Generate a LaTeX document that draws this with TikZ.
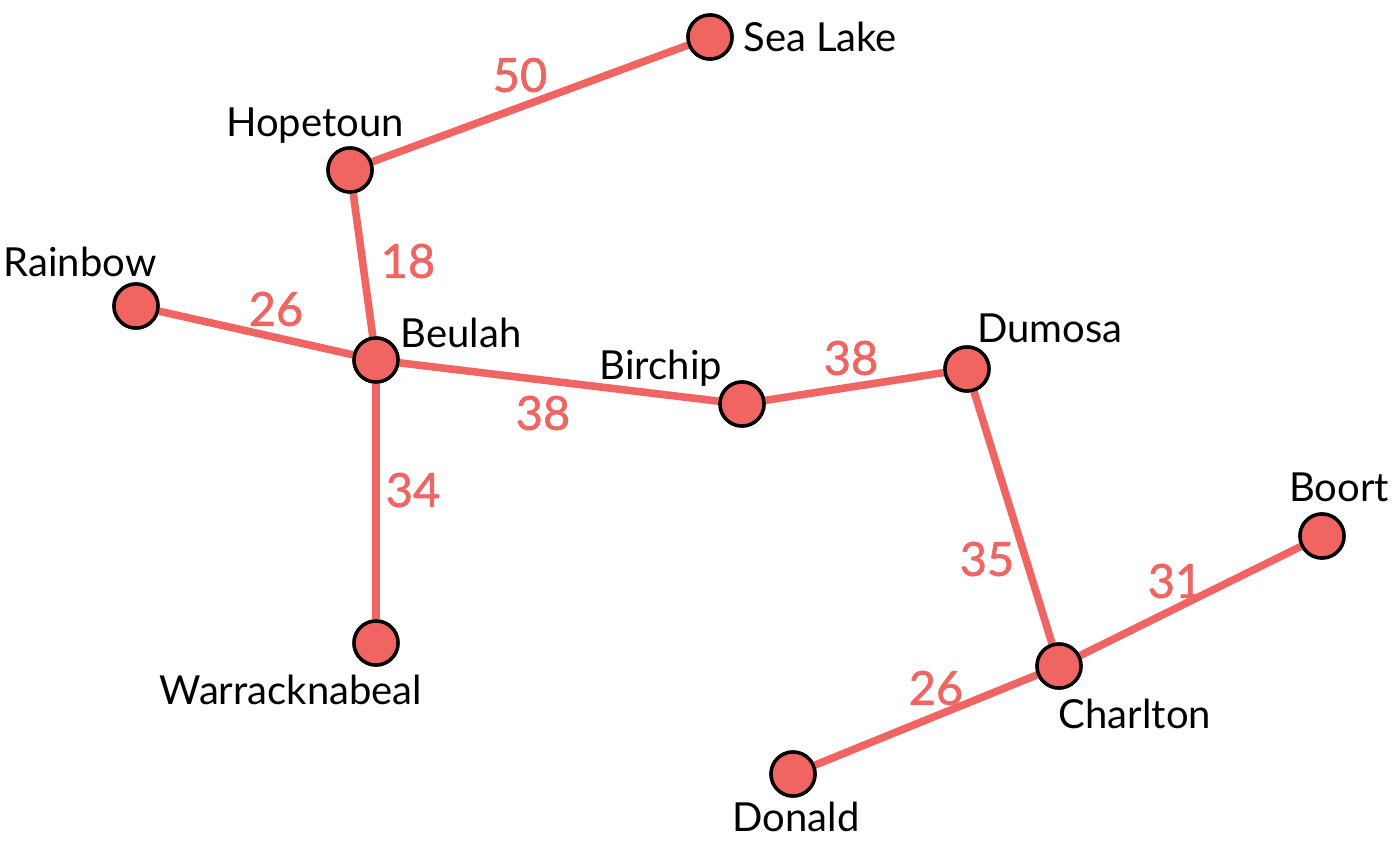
\documentclass[tikz,border=0pt]{standalone}
\usepackage{fontspec}
\setmainfont{Lato}
\newfontfamily\distfont[FakeBold=1.3]{Lato}
\definecolor{road}{RGB}{240,100,98}
\begin{document}
\begin{tikzpicture}[x=0.5pt,y=-0.5pt,
  town/.style={circle,draw=black,line width=1.7pt,fill=road,minimum size=22pt,inner sep=0pt},
  edge/.style={draw=road,line width=3.8pt},
  townlabel/.style={font=\fontsize{20}{23}\selectfont,text=black,inner sep=0pt},
  dist/.style={font=\distfont\fontsize{23.5}{26}\selectfont,text=road,inner sep=0pt}]
\useasboundingbox (0,0) rectangle (1393,845);
\node[town] (sealake) at (710,37) {};
\node[town] (hopetoun) at (350,170) {};
\node[town] (rainbow) at (136,306) {};
\node[town] (beulah) at (376,360) {};
\node[town] (birchip) at (742,404) {};
\node[town] (dumosa) at (967,369) {};
\node[town] (warrack) at (376,643) {};
\node[town] (boort) at (1322,536) {};
\node[town] (charlton) at (1059,666) {};
\node[town] (donald) at (793,774) {};
\path[edge] (hopetoun) -- (sealake);
\path[edge] (hopetoun) -- (beulah);
\path[edge] (rainbow) -- (beulah);
\path[edge] (beulah) -- (birchip);
\path[edge] (beulah) -- (warrack);
\path[edge] (birchip) -- (dumosa);
\path[edge] (dumosa) -- (charlton);
\path[edge] (charlton) -- (boort);
\path[edge] (charlton) -- (donald);
\foreach \n in {sealake,hopetoun,rainbow,beulah,birchip,dumosa,warrack,boort,charlton,donald}
  \node[town] at (\n) {};
\node[townlabel,anchor=west] (lsealake) at (743,37) {Sea Lake};
\node[townlabel] (lhopetoun) at (315,126) {Hopetoun};
\node[townlabel] (lrainbow) at (80,262) {Rainbow};
\node[townlabel] (lbeulah) at (461,333) {Beulah};
\node[townlabel] (lbirchip) at (661,368) {Birchip};
\node[townlabel] (ldumosa) at (1050,328) {Dumosa};
\node[townlabel] (lboort) at (1339,487) {Boort};
\node[townlabel] (lcharlton) at (1135,714) {Charlton};
\node[townlabel] (ldonald) at (796,817) {Donald};
\node[townlabel] (lwarrack) at (291,690) {Warracknabeal};
\node[dist] (d1) at (520,75) {50};
\node[dist] (d2) at (408,261) {18};
\node[dist] (d3) at (276,309) {26};
\node[dist] (d4) at (543,413) {38};
\node[dist] (d5) at (413,490) {34};
\node[dist] (d6) at (851,358) {38};
\node[dist] (d7) at (987,559) {35};
\node[dist] (d8) at (1175,581) {31};
\node[dist] (d9) at (936,688) {26};
\end{tikzpicture}
\end{document}
